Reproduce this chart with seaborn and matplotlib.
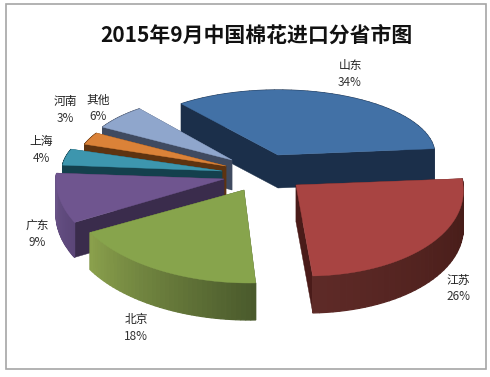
import numpy as np
import matplotlib
matplotlib.use('Agg')
import matplotlib.pyplot as plt
from matplotlib.patches import Rectangle
import seaborn as sns

sns.set_theme(style='white')
plt.rcParams['font.family'] = ['Noto Sans CJK SC', 'DejaVu Sans']

# datos
provinces = ['山东', '江苏', '北京', '广东', '上海', '河南', '其他']
shares = [34, 26, 18, 9, 4, 3, 6]

# colores: cara superior, y pared exterior en sentido horario
top_colors = ['#4271A6', '#A84442', '#87A44C', '#6F558F', '#3D96AE', '#DB8238', '#8FA6CC']
wall_start = ['#1B2F4A', '#431A16', '#4A5A2C', '#5B4678', '#14404D', '#5E3310', '#3F4A60']
wall_end = ['#1B2F4A', '#5E2A27', '#8AA04C', '#6A5488', '#14404D', '#5E3310', '#3F4A60']
radial_colors = ['#1B2F4A', '#4A1B19', '#4A5A2C', '#3A2C4C', '#14404D', '#5E3310', '#3F4A60']

# geometria en pixeles: punta de cada porcion
tip_x = [278, 296, 244, 224, 222, 226, 232]
tip_y = [155, 185, 190, 179, 171, 166, 160]
rad_x = [157, 167, 176, 168, 160, 150, 150]
rad_front = [95, 91, 93, 95, 95, 95, 95]
depth = [33, 37, 37, 35, 30, 30, 30]
shear = [0.08, 0.12, 0.06, 0.0, 0.08, 0.08, 0.08]
rad_back = 65
start_angle = 128

label_x = [350, 458, 136, 37, 41, 65, 98]
label_y = [66, 280, 320, 226, 141, 102, 100]
draw_order = [0, 6, 5, 4, 3, 1, 2]


def project(i, theta):
    s, c = np.sin(theta), np.cos(theta)
    down = np.where(s < 0, -s * rad_front[i], -s * rad_back)
    x = tip_x[i] + rad_x[i] * c + shear[i] * np.maximum(down, 0)
    y = tip_y[i] + down
    return x, y


fig = plt.figure(figsize=(4.9, 3.77), dpi=100)
ax = fig.add_axes([0, 0, 1, 1])
ax.set_xlim(0, 490)
ax.set_ylim(377, 0)
ax.axis('off')
ax.add_patch(Rectangle((6, 4), 480, 365, fill=False, ec='#a6a6a6', lw=1.2))

ends = start_angle - np.cumsum([0] + shares) * 3.6
for i in draw_order:
    a0, a1 = np.radians(ends[i]), np.radians(ends[i + 1])
    tx, ty = tip_x[i], tip_y[i]
    d = depth[i]
    # paredes radiales
    for a in (a0, a1):
        ex, ey = project(i, np.array([a]))
        ax.fill([tx, ex[0], ex[0], tx], [ty, ey[0], ey[0] + d, ty + d],
                color=radial_colors[i], lw=0.3)
    # pared exterior con degradado
    n = 40
    theta = np.linspace(a0, a1, n + 1)
    xs, ys = project(i, theta)
    pal = sns.blend_palette([wall_start[i], wall_end[i]], n)
    for k in range(n):
        ax.fill([xs[k], xs[k + 1], xs[k + 1], xs[k]],
                [ys[k], ys[k + 1], ys[k + 1] + d, ys[k] + d],
                color=pal[k], lw=0.9)
    # cara superior
    theta = np.linspace(a0, a1, 80)
    xs, ys = project(i, theta)
    ax.fill(np.r_[tx, xs], np.r_[ty, ys], color=top_colors[i], lw=0.3)

for i, name in enumerate(provinces):
    ax.text(label_x[i], label_y[i], name, ha='center', va='center', fontsize=8.5, color='#222222')
    ax.text(label_x[i], label_y[i] + 17, f'{shares[i]}%', ha='center', va='center',
            fontsize=8.5, color='#333333')

ax.text(256, 35, '2015年9月中国棉花进口分省市图', ha='center', va='center',
        fontsize=15, fontweight='bold', color='#111111')

fig.savefig('out.png', dpi=100)
